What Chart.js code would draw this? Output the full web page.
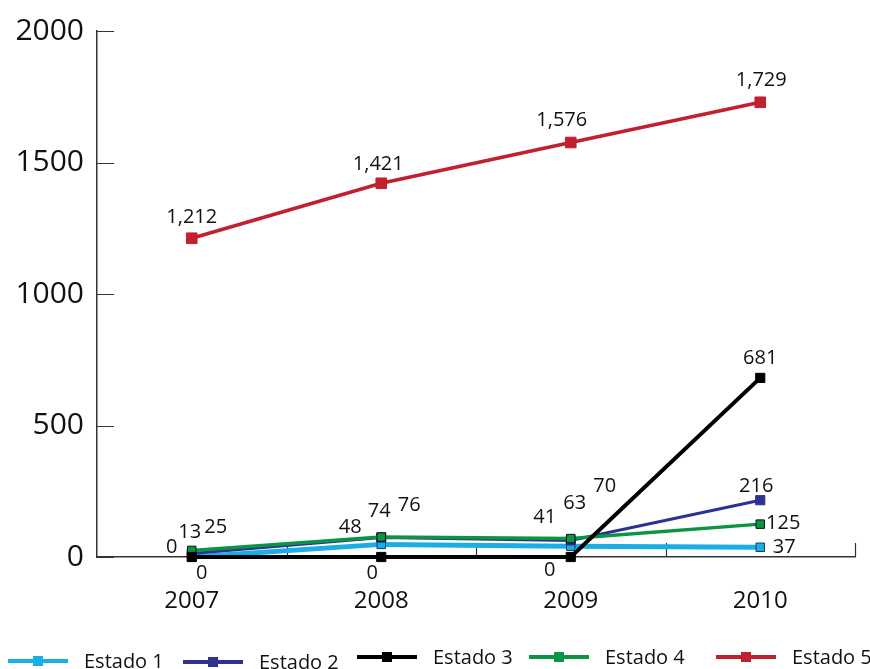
<!DOCTYPE html>
<html>
<head>
<meta charset="utf-8">
<script src="https://cdn.jsdelivr.net/npm/chart.js@4"></script>
<style>
  html, body { margin: 0; padding: 0; background: #fff; }
</style>
</head>
<body>
<canvas id="myChart" width="870" height="669"></canvas>
<script>
const years = ['2007', '2008', '2009', '2010'];
const estado1 = [0, 48, 41, 37];
const estado2 = [13, 74, 63, 216];
const estado3 = [0, 0, 0, 681];
const estado4 = [25, 76, 70, 125];
const estado5 = [1212, 1421, 1576, 1729];
const yTicks = [0, 500, 1000, 1500, 2000];

const FONT = '"Open Sans", "Liberation Sans", sans-serif';

// where each value label sits relative to its point, [dx, dy] in px
const offsets1 = [[-20, -10], [-31, -17], [-26, -29], [24, 0]];
const offsets2 = [[-2, -21], [-2, -26], [4, -37], [-4, -14]];
const offsets3 = [[10, 16], [-9, 16], [-21, 13], [0, -20]];
const offsets4 = [[24, -23], [28, -32], [34, -52], [23, -1]];
const offsets5 = [[0, -21], [-3, -19], [-9, -22], [1, -22]];

function series(label, data, color, opts) {
  return Object.assign({
    label: label,
    data: data,
    borderColor: color,
    backgroundColor: color,
    pointStyle: 'rect',
    pointBorderColor: color,
    pointBorderWidth: 1,
    pointRadius: 6.5,
    borderWidth: 3.5,
    tension: 0,
    clip: false,
  }, opts);
}

const datasets = [
  series('Estado 1', estado1, '#1aaee5', { borderWidth: 5, pointBorderColor: '#1d3a5c', pointRadius: 6, labelOffsets: offsets1, order: 5 }),
  series('Estado 2', estado2, '#2e3192', { borderWidth: 3, labelOffsets: offsets2, order: 4 }),
  series('Estado 3', estado3, '#000000', { borderWidth: 4, labelOffsets: offsets3, order: 1 }),
  series('Estado 4', estado4, '#0a9444', { pointBorderColor: '#111', pointRadius: 6, labelOffsets: offsets4, order: 3 }),
  series('Estado 5', estado5, '#c1202f', { pointRadius: 7.5, labelOffsets: offsets5, order: 2 }),
];

// short tick marks pointing into the plot
const axisTicks = {
  id: 'axisTicks',
  beforeDatasetsDraw(chart) {
    const { ctx, scales: { x, y } } = chart;
    ctx.save();
    ctx.strokeStyle = '#333';
    ctx.lineWidth = 1.2;
    ctx.beginPath();
    yTicks.forEach(v => {
      const py = Math.round(y.getPixelForValue(v)) + 0.5;
      ctx.moveTo(x.left, py);
      ctx.lineTo(x.left + 17, py);
    });
    const step = x.getPixelForValue(1) - x.getPixelForValue(0);
    years.forEach((_, i) => {
      const px = Math.round(x.getPixelForValue(i) + step / 2) + 0.5;
      ctx.moveTo(px, y.bottom);
      ctx.lineTo(px, y.bottom - 14);
    });
    ctx.stroke();
    ctx.restore();
  }
};

const pointLabels = {
  id: 'pointLabels',
  afterDatasetsDraw(chart) {
    const ctx = chart.ctx;
    ctx.save();
    ctx.font = '20px ' + FONT;
    ctx.fillStyle = '#111';
    ctx.textAlign = 'center';
    ctx.textBaseline = 'middle';
    chart.data.datasets.forEach((ds, i) => {
      chart.getDatasetMeta(i).data.forEach((pt, j) => {
        const off = ds.labelOffsets[j];
        ctx.fillText(ds.data[j].toLocaleString('en-US'), pt.x + off[0], pt.y + off[1]);
      });
    });
    ctx.restore();
  }
};

// legend row along the bottom: line sample with square marker, then the name
const legendRow = {
  id: 'legendRow',
  afterDraw(chart) {
    const ctx = chart.ctx;
    const starts = [8, 183, 357, 529, 716];
    const rows = [661, 662, 657, 657, 657];
    ctx.save();
    ctx.font = '20px ' + FONT;
    ctx.textBaseline = 'middle';
    ctx.textAlign = 'left';
    chart.data.datasets.forEach((ds, i) => {
      const x0 = starts[i], yy = rows[i];
      ctx.strokeStyle = ds.borderColor;
      ctx.lineWidth = 4;
      ctx.beginPath();
      ctx.moveTo(x0, yy);
      ctx.lineTo(x0 + 60, yy);
      ctx.stroke();
      ctx.fillStyle = ds.borderColor;
      ctx.fillRect(x0 + 25, yy - 5, 10, 10);
      ctx.fillStyle = '#111';
      ctx.fillText(ds.label, x0 + 76, yy + 1);
    });
    ctx.restore();
  }
};

new Chart(document.getElementById('myChart'), {
  type: 'line',
  data: { labels: years, datasets: datasets },
  plugins: [axisTicks, pointLabels, legendRow],
  options: {
    responsive: false,
    animation: false,
    layout: { padding: { top: 29, right: 15, bottom: 0, left: 0 } },
    plugins: {
      legend: { display: false },
      tooltip: { enabled: false }
    },
    scales: {
      x: {
        offset: true,
        grid: { display: false, drawTicks: false },
        border: { display: true, color: '#333', width: 1.5 },
        ticks: { color: '#111', font: { family: FONT, size: 24 }, padding: 30 },
        afterFit: s => { s.height = 112; }
      },
      y: {
        min: 0,
        max: 2000,
        grid: { display: false, drawTicks: false },
        border: { display: true, color: '#333', width: 1.5 },
        ticks: {
          stepSize: 500,
          color: '#111',
          font: { family: FONT, size: 30 },
          padding: 13,
          callback: v => String(v)
        },
        afterFit: s => { s.width = 97; }
      }
    }
  }
});
</script>
</body>
</html>
